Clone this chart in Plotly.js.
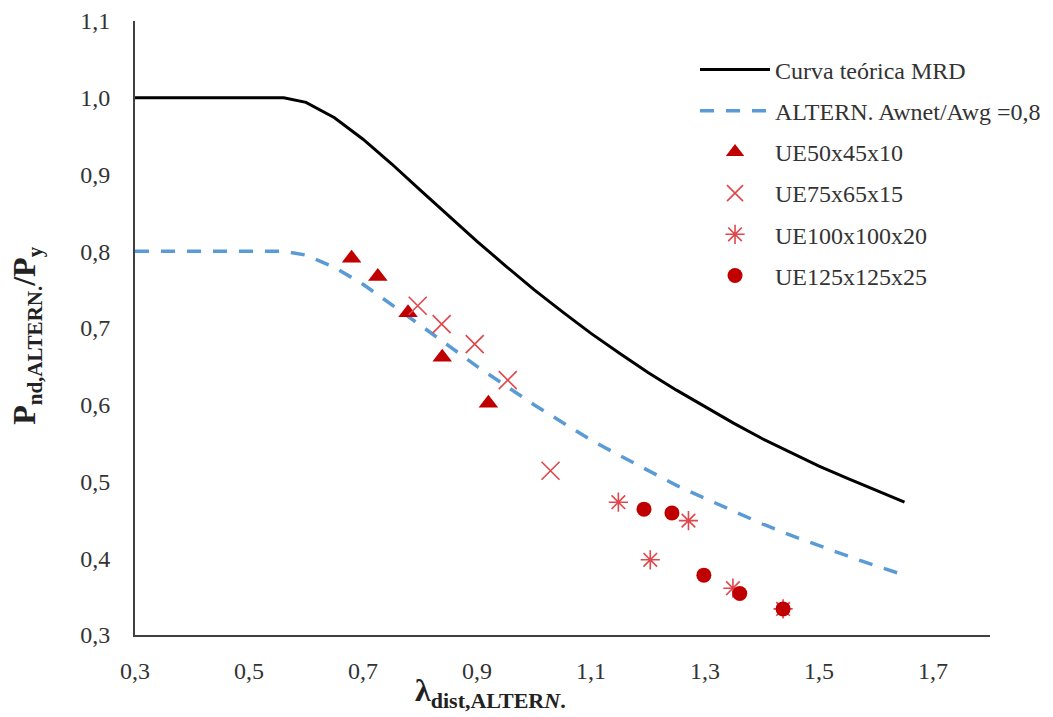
<!DOCTYPE html>
<html><head><meta charset="utf-8">
<script src="https://cdn.plot.ly/plotly-3.0.1.min.js"></script>
<style>html,body{margin:0;padding:0;background:#fff}</style>
</head><body><div id="chart" style="width:1053px;height:717px"></div>
<script>
// Theoretical curves
const curveLambda = [0.3,0.4,0.5,0.561,0.6,0.65,0.7,0.75,0.8,0.85,0.9,0.95,1.0,1.05,1.1,1.15,1.2,1.25,1.3,1.35,1.4,1.45,1.5,1.55,1.6,1.65];
const curveMRD    = [1,1,1,1,0.994,0.974,0.946,0.914,0.880,0.846,0.813,0.781,0.750,0.721,0.693,0.667,0.642,0.619,0.597,0.576,0.556,0.538,0.520,0.504,0.488,0.473];
const curveAltern = [0.8,0.8,0.8,0.8,0.795,0.779,0.757,0.731,0.704,0.677,0.650,0.625,0.600,0.577,0.554,0.534,0.514,0.495,0.478,0.461,0.445,0.430,0.416,0.403,0.390,0.378];

// Test series
const ue50x   = [0.680,0.726,0.779,0.839,0.920];
const ue50y   = [0.791,0.767,0.720,0.662,0.602];
const ue75x   = [0.796,0.838,0.896,0.954,1.029];
const ue75y   = [0.729,0.705,0.679,0.632,0.514];
const ue100x  = [1.148,1.271,1.204,1.349,1.437];
const ue100y  = [0.473,0.449,0.398,0.361,0.334];
const ue125x  = [1.193,1.242,1.298,1.361,1.437];
const ue125y  = [0.464,0.459,0.378,0.354,0.334];

const names = ['Curva teórica MRD','ALTERN. Awnet/Awg =0,8','UE50x45x10','UE75x65x15','UE100x100x20','UE125x125x25'];
const xTicks = [0.3,0.5,0.7,0.9,1.1,1.3,1.5,1.7];
const yTicks = [0.3,0.4,0.5,0.6,0.7,0.8,0.9,1.0,1.1];

const red = '#C00000', lightRed = '#E0474C';
const FONT = 'Liberation Serif';

const traces = [
  {x: curveLambda, y: curveMRD, mode:'lines', name: names[0], legendgroup:'a',
   line:{color:'#000000', width:3}},
  {x: curveLambda, y: curveAltern, mode:'lines', name: names[1], legendgroup:'b',
   line:{color:'#5B9BD5', width:3.5, dash:'14px,12px'}},
  {x: ue50x, y: ue50y, mode:'markers', name: names[2], legendgroup:'c',
   marker:{symbol:'triangle-up', size:17, color:red}},
  {x: ue75x, y: ue75y, mode:'markers', name: names[3], legendgroup:'d',
   marker:{symbol:'x-thin-open', size:18, color:lightRed, line:{color:lightRed, width:1.6}}},
  {x: ue100x, y: ue100y, mode:'markers', name: names[4], legendgroup:'e',
   marker:{symbol:'asterisk-open', size:16, color:lightRed, line:{color:lightRed, width:1.6}}},
  {x: ue125x, y: ue125y, mode:'markers', name: names[5], legendgroup:'f',
   marker:{symbol:'circle', size:15, color:red}}
];

const layout = {
  width:1053, height:717,
  margin:{l:135, r:63, t:21, b:82, pad:0, autoexpand:false},
  paper_bgcolor:'#fff', plot_bgcolor:'#fff',
  separators: ',.',
  font:{family:FONT, size:24, color:'#333'},
  showlegend:true,
  legend:{x:0.655, y:0.957, xanchor:'left', yanchor:'top', bgcolor:'rgba(0,0,0,0)',
          font:{family:FONT, size:24, color:'#333'}, traceorder:'grouped', tracegroupgap:7, itemwidth:70},
  xaxis:{range:[0.3,1.8], tickvals:xTicks, ticktext:xTicks.map(v=>v.toFixed(1).replace('.',',')),
         showgrid:false, zeroline:false, showline:true, linecolor:'#404040', linewidth:2,
         ticks:'', ticklabelstandoff:13, tickfont:{family:FONT, size:24, color:'#333'}, automargin:false},
  yaxis:{range:[0.3,1.1], tickvals:yTicks, ticktext:yTicks.map(v=>v.toFixed(1).replace('.',',')),
         showgrid:false, zeroline:false, showline:true, linecolor:'#404040', linewidth:2,
         ticks:'', ticklabelstandoff:18, tickfont:{family:FONT, size:24, color:'#333'}, automargin:false},
  annotations:[
    {xref:'paper', yref:'paper', x:0.416, y:-0.094, xanchor:'center', yanchor:'middle', showarrow:false,
     text:'<b>λ<sub><span style="font-size:22px">dist,ALTER<i>N</i>.</span></sub></b>',
     font:{family:FONT, size:32, color:'#222'}},
    {xref:'paper', yref:'paper', x:-0.127, y:0.488, xanchor:'center', yanchor:'middle', showarrow:false, textangle:-90,
     text:'<b>P<sub><span style="font-size:21px">nd,ALTERN.</span></sub>/P<sub><span style="font-size:21px">y</span></sub></b>',
     font:{family:FONT, size:32, color:'#222'}}
  ]
};

Plotly.newPlot('chart', traces, layout, {displayModeBar:false, staticPlot:true});
</script></body></html>
